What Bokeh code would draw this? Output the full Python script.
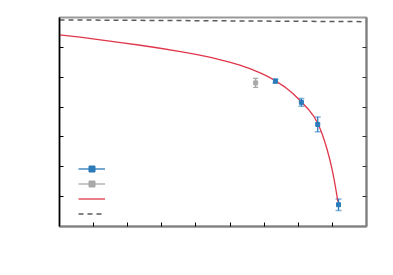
from bokeh.plotting import figure
from bokeh.models import (ColumnDataSource, Whisker, TeeHead, LinearAxis, Legend,
                          LegendItem, FixedTicker, CustomJSTickFormatter, Range1d)
from bokeh.embed import file_html
from bokeh.resources import INLINE

# data
blue_x = [6.33, 7.09, 7.57, 8.18]
blue_y = [4.87, 4.16, 3.42, 0.73]
blue_err = [0.07, 0.13, 0.25, 0.19]
gray_x = [5.75]
gray_y = [4.81]
gray_err = [0.15]
fit_x = [0.0, 0.6, 1.20, 1.8, 2.37, 2.95, 3.55, 4.0, 4.43, 4.75, 5.01, 5.31, 5.6, 5.9, 6.1,
         6.33, 6.6, 6.85, 7.09, 7.3, 7.45, 7.56, 7.65, 7.71, 7.78, 7.85, 7.92, 7.99, 8.05, 8.12, 8.16]
fit_y = [6.42, 6.34, 6.25, 6.16, 6.07, 5.97, 5.86, 5.765, 5.662, 5.576, 5.498, 5.394, 5.278, 5.137, 5.027,
         4.88, 4.677, 4.447, 4.18, 3.92, 3.70, 3.48, 3.246, 3.066, 2.828, 2.562, 2.261, 1.918, 1.582, 1.127, 0.83]
ref_x = [0.0, 9.0]
ref_y = [6.92, 6.86]
x_ticks = [1, 2, 3, 4, 5, 6, 7, 8]
y_ticks = [1, 2, 3, 4, 5, 6]

BLUE = "#2b7bba"
BLUE_LIGHT = "#7db4de"
GRAY = "#a8a8a8"
RED = "#e0364a"
DASH = "#5a5a5a"

p = figure(width=385, height=267, output_backend="svg", toolbar_location=None,
           x_range=Range1d(0, 9), y_range=Range1d(0, 7),
           frame_width=307, frame_height=209,
           min_border_left=59, min_border_right=19, min_border_top=17, min_border_bottom=41)
p.grid.visible = False
p.background_fill_color = "white"
p.border_fill_color = "white"
p.outline_line_color = "#999999"
p.outline_line_width = 2

empty = CustomJSTickFormatter(code="return ''")
for ax in (p.xaxis[0], p.yaxis[0]):
    ax.major_tick_in = 4
    ax.major_tick_out = 0
    ax.minor_tick_line_color = None
    ax.major_tick_line_color = "black"
    ax.formatter = empty
    ax.major_label_standoff = 0
p.xaxis[0].ticker = FixedTicker(ticks=x_ticks)
p.yaxis[0].ticker = FixedTicker(ticks=y_ticks)
p.xaxis[0].axis_line_color = "#808080"
p.xaxis[0].axis_line_width = 2
p.yaxis[0].axis_line_color = "black"
p.yaxis[0].axis_line_width = 1.5

ra = LinearAxis(ticker=FixedTicker(ticks=y_ticks), formatter=empty,
                major_tick_in=4, major_tick_out=0, minor_tick_line_color=None,
                major_tick_line_color="#333333", axis_line_color="#808080",
                axis_line_width=2, major_label_standoff=0)
p.add_layout(ra, "right")

# reference dashed line
r_dash = p.line(ref_x, ref_y, line_color=DASH, line_width=1.5, line_dash="5 4")

# fit curve
r_fit = p.line(fit_x, fit_y, line_color=RED, line_width=1.3, line_join="round")

# gray point
gsrc = ColumnDataSource(dict(x=gray_x, y=gray_y,
                             lo=[y - e for y, e in zip(gray_y, gray_err)],
                             hi=[y + e for y, e in zip(gray_y, gray_err)]))
r_gseg = p.segment(x0="x", y0="lo", x1="x", y1="hi", source=gsrc, line_color=GRAY, line_width=1.3)
p.add_layout(Whisker(source=gsrc, base="x", lower="lo", upper="hi", line_alpha=0,
                     upper_head=TeeHead(size=5, line_color=GRAY, line_width=1.2),
                     lower_head=TeeHead(size=5, line_color=GRAY, line_width=1.2)))
r_gpt = p.scatter("x", "y", source=gsrc, marker="square", size=4, color=GRAY)

# blue points
bsrc = ColumnDataSource(dict(x=blue_x, y=blue_y,
                             lo=[y - e for y, e in zip(blue_y, blue_err)],
                             hi=[y + e for y, e in zip(blue_y, blue_err)]))
r_bseg = p.segment(x0="x", y0="lo", x1="x", y1="hi", source=bsrc, line_color=BLUE, line_width=1.3)
p.add_layout(Whisker(source=bsrc, base="x", lower="lo", upper="hi", line_alpha=0,
                     upper_head=TeeHead(size=6, line_color=BLUE_LIGHT, line_width=1.5),
                     lower_head=TeeHead(size=6, line_color=BLUE_LIGHT, line_width=1.5)))
r_bpt = p.scatter("x", "y", source=bsrc, marker="square", size=4, color=BLUE)

# legend (no text)
legend = Legend(items=[
    LegendItem(label=" ", renderers=[r_bseg, r_bpt]),
    LegendItem(label=" ", renderers=[r_gseg, r_gpt]),
    LegendItem(label=" ", renderers=[r_fit]),
    LegendItem(label=" ", renderers=[r_dash]),
], location=(19, 5), glyph_width=27, glyph_height=15, label_height=15,
    label_width=1, label_standoff=0, spacing=0, padding=0, margin=0,
    label_text_font_size="1px", background_fill_alpha=0, border_line_color=None)
p.add_layout(legend)

open("out.html", "w").write(file_html(p, INLINE))
